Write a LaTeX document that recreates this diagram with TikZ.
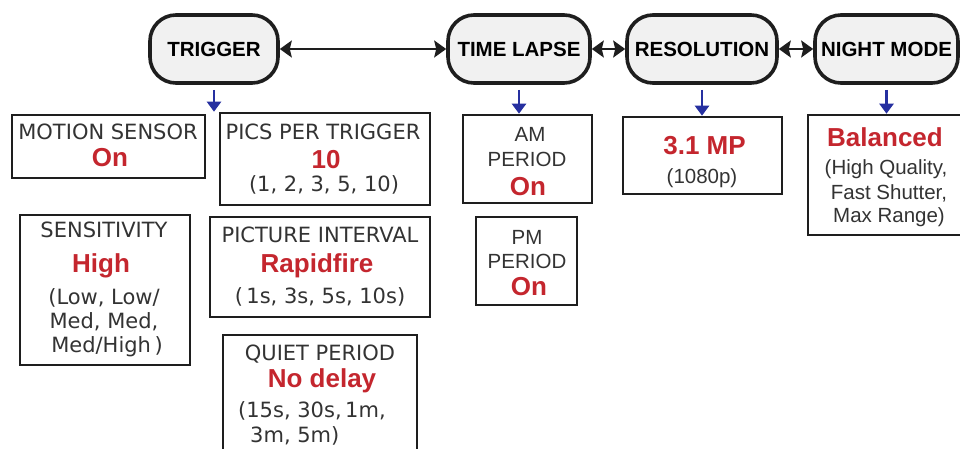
\documentclass[tikz,border=0pt]{standalone}
\usepackage{fontspec}
\setmainfont{Liberation Sans}
\newfontfamily\vfont{DejaVu Sans}
\newfontfamily\afont{Liberation Sans}
\usetikzlibrary{arrows.meta}
\definecolor{redv}{HTML}{C4262E}
\definecolor{bluea}{HTML}{2630A0}
\definecolor{pillfill}{HTML}{F1F1F1}
\definecolor{txt}{HTML}{333333}
\definecolor{edge}{HTML}{1E1E1E}
\begin{document}
\begin{tikzpicture}[x=1pt,y=-1pt,
 pill/.style={draw=edge,line width=3.6pt,fill=pillfill,rounded corners=26pt,minimum height=68pt,inner sep=0pt,font=\afont\bfseries\fontsize{20.5}{24}\selectfont},
 box/.style={draw=edge,line width=2.6pt,inner sep=0pt},
 lab/.style={anchor=base,inner sep=0pt,text=txt,font=\vfont\fontsize{21}{24}\selectfont},
 labl/.style={anchor=base west,inner sep=0pt,text=txt,font=\vfont\fontsize{21}{24}\selectfont},
 val/.style={anchor=base,inner sep=0pt,text=redv,font=\afont\bfseries\fontsize{26}{30}\selectfont},
 ari/.style={anchor=base,inner sep=0pt,text=txt,font=\afont\fontsize{20.5}{24}\selectfont},
 link/.style={draw=edge,line width=2.2pt,{Stealth[length=12pt,width=17pt,inset=2pt]}-{Stealth[length=12pt,width=17pt,inset=2pt]}},
 down/.style={draw=bluea,line width=2.4pt,-{Triangle[length=10pt,width=14pt]},shorten <=5pt}]
\clip (0,0) rectangle (960,449);
\fill[white] (0,0) rectangle (960,449);
% header pills
\node[pill,minimum width=128pt] (trigger) at (214,49) {TRIGGER};
\node[pill,minimum width=142pt] (timelapse) at (519,49) {TIME LAPSE};
\node[pill,minimum width=150pt] (resolution) at (702,49) {RESOLUTION};
\node[pill,minimum width=143pt] (night) at (886.5,49) {NIGHT MODE};
\draw[link] (trigger) -- (timelapse);
\draw[link] (timelapse) -- (resolution);
\draw[link] (resolution) -- (night);
% boxes
\node[box,minimum width=193pt,minimum height=63pt] (ms) at (108.5,146.5) {};
\node[box,minimum width=210pt,minimum height=92pt] (pics) at (325,159) {};
\node[box,minimum width=170pt,minimum height=150pt] (sens) at (105,290) {};
\node[box,minimum width=220pt,minimum height=100pt] (pint) at (320,267) {};
\node[box,minimum width=194pt,minimum height=125pt] (quiet) at (320,397.5) {};
\node[box,minimum width=129pt,minimum height=88pt] (am) at (527.5,159) {};
\node[box,minimum width=101pt,minimum height=88pt] (pm) at (526.5,261) {};
\node[box,minimum width=159pt,minimum height=77pt] (mp) at (702.5,155.5) {};
\node[box,minimum width=162pt,minimum height=120pt] (bal) at (889,175) {};
% down arrows
\draw[down] (trigger.south) -- (trigger.south |- pics.north);
\draw[down] (timelapse.south) -- (timelapse.south |- am.north);
\draw[down] (resolution.south) -- (resolution.south |- mp.north);
\draw[down] (night.south) -- (night.south |- bal.north);
% texts
\node[lab] (ms1) at (108,140) {MOTION SENSOR};
\node[val] (ms2) at (110,167) {On};
\node[lab] (pc1) at (323,140) {PICS PER TRIGGER};
\node[val] (pc2) at (326,168) {10};
\node[lab] (pc3) at (324,192) {(1, 2, 3, 5, 10)};
\node[lab] (se1) at (104,237) {SENSITIVITY};
\node[val] (se2) at (101,272) {High};
\node[lab] (se3) at (104,304) {(Low, Low/};
\node[lab] (se4) at (104,328) {Med, Med,};
\node[lab] (se5) at (107,352) {Med/High\,)};
\node[lab] (pi1) at (320,242) {PICTURE INTERVAL};
\node[val] (pi2) at (317,272) {Rapidfire};
\node[lab] (pi3) at (320,303) {(\,1s, 3s, 5s, 10s)};
\node[lab] (qp1) at (320,360) {QUIET PERIOD};
\node[val] (qp2) at (322,387) {No delay};
\node[labl] (qp3) at (238,417) {(15s, 30s,\,1m,};
\node[labl] (qp4) at (250,442) {3m, 5m)};
\node[ari] (am1) at (530,142) {AM};
\node[ari] (am2) at (527,167) {PERIOD};
\node[val] (am3) at (528,195) {On};
\node[ari] (pm1) at (527,244) {PM};
\node[ari] (pm2) at (527,268) {PERIOD};
\node[val] (pm3) at (529,295) {On};
\node[val] (mp1) at (704.5,155) {3.1 MP};
\node[ari] (mp2) at (702,183) {(1080p)};
\node[val] (ba1) at (885,147) {Balanced};
\node[ari] (ba2) at (886,175) {(High Quality,};
\node[ari] (ba3) at (889,200) {Fast Shutter,};
\node[ari] (ba4) at (889,222) {Max Range)};
\end{tikzpicture}
\end{document}
